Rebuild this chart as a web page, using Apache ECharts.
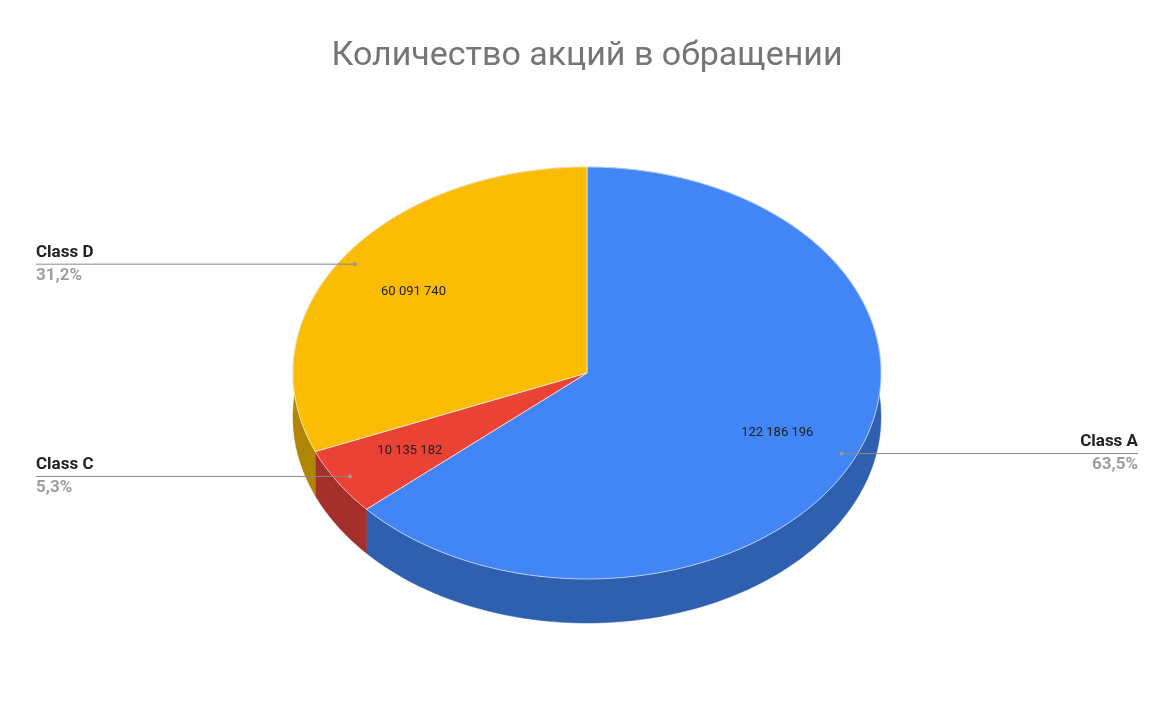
<!DOCTYPE html>
<html><head><meta charset="utf-8">
<script src="https://cdn.jsdelivr.net/npm/echarts@6/dist/echarts.min.js"></script>
<style>html,body{margin:0;padding:0;background:#fff}#c{width:1174px;height:726px}</style>
</head><body><div id="c"></div>
<script>
const categories = ['Class A', 'Class C', 'Class D'];
const values = [122186196, 10135182, 60091740];
const topColors = ['#4285f4', '#ea4335', '#fbbc04'];
const wallColors = ['#2f5faf', '#a3302a', '#b08503'];

const total = values.reduce((a, b) => a + b, 0);
const cum = []; let acc = 0;
values.forEach(v => { cum.push(acc); acc += v; });
const fmt = v => String(v).replace(/\B(?=(\d{3})+(?!\d))/g, ' ');
const pct = v => (v / total * 100).toFixed(1).replace('.', ',') + '%';

const chart = echarts.init(document.getElementById('c'));
function geom(api) {
  const w = api.getWidth();
  return { cx: w / 2, cy: 373, rx: 294, ry: 206, depth: 44 };
}
function pt(g, a, f, dy) { // a: clockwise from top, radians
  return [g.cx + g.rx * f * Math.sin(a), g.cy - g.ry * f * Math.cos(a) + (dy || 0)];
}
function arc(g, a0, a1, dy, n) {
  const pts = [];
  for (let i = 0; i <= n; i++) pts.push(pt(g, a0 + (a1 - a0) * i / n, 1, dy));
  return pts;
}
function angles(i) {
  return [cum[i] / total * 2 * Math.PI, (cum[i] + values[i]) / total * 2 * Math.PI];
}
const data = values.map((v, i) => ({ value: v, name: categories[i] }));

chart.setOption({
  animation: false,
  title: { text: 'Количество акций в обращении', left: 'center', top: 34,
    textStyle: { fontFamily: 'Roboto', fontSize: 34, fontWeight: 'normal', color: '#757575' } },
  series: [
    { type: 'custom', coordinateSystem: 'none', data: data, silent: true,
      renderItem: (params, api) => {
        const g = geom(api); const i = params.dataIndex;
        const [a0, a1] = angles(i);
        const top = arc(g, a0, a1, 0, 120);
        const bot = arc(g, a0, a1, g.depth, 120).reverse();
        return { type: 'polygon', shape: { points: top.concat(bot) },
          style: { fill: wallColors[i], stroke: wallColors[i], lineWidth: 0.5 } };
      } },
    { type: 'custom', coordinateSystem: 'none', data: data, silent: true,
      renderItem: (params, api) => {
        const g = geom(api); const i = params.dataIndex;
        const [a0, a1] = angles(i);
        const pts = [[g.cx, g.cy]].concat(arc(g, a0, a1, 0, 160));
        const mid = (a0 + a1) / 2;
        const lp = pt(g, mid, 0.71);
        const dp = pt(g, mid, 0.95);
        const right = Math.sin(mid) > 0;
        const lineEnd = right ? 1138 : 36;
        const tx = right ? 1138 : 36;
        const align = right ? 'right' : 'left';
        return { type: 'group', children: [
          { type: 'polygon', shape: { points: pts },
            style: { fill: topColors[i], stroke: '#ffffff', lineWidth: 0.6 } },
          { type: 'text', style: { text: fmt(values[i]), x: lp[0], y: lp[1], align: 'center',
              verticalAlign: 'middle', fontFamily: 'Roboto', fontSize: 13, fill: '#222' } },
          { type: 'line', shape: { x1: dp[0], y1: dp[1], x2: lineEnd, y2: dp[1] },
            style: { stroke: '#888', lineWidth: 1 } },
          { type: 'circle', shape: { cx: dp[0], cy: dp[1], r: 2 }, style: { fill: '#999' } },
          { type: 'text', style: { text: categories[i], x: tx, y: dp[1] - 3, align: align,
              verticalAlign: 'bottom', fontFamily: 'Roboto', fontSize: 17, fontWeight: 'bold', fill: '#222' } },
          { type: 'text', style: { text: pct(values[i]), x: tx, y: dp[1] + 3, align: align,
              verticalAlign: 'top', fontFamily: 'Roboto', fontSize: 17, fontWeight: 'bold', fill: '#9e9e9e' } }
        ] };
      } }
  ]
});
</script></body></html>
